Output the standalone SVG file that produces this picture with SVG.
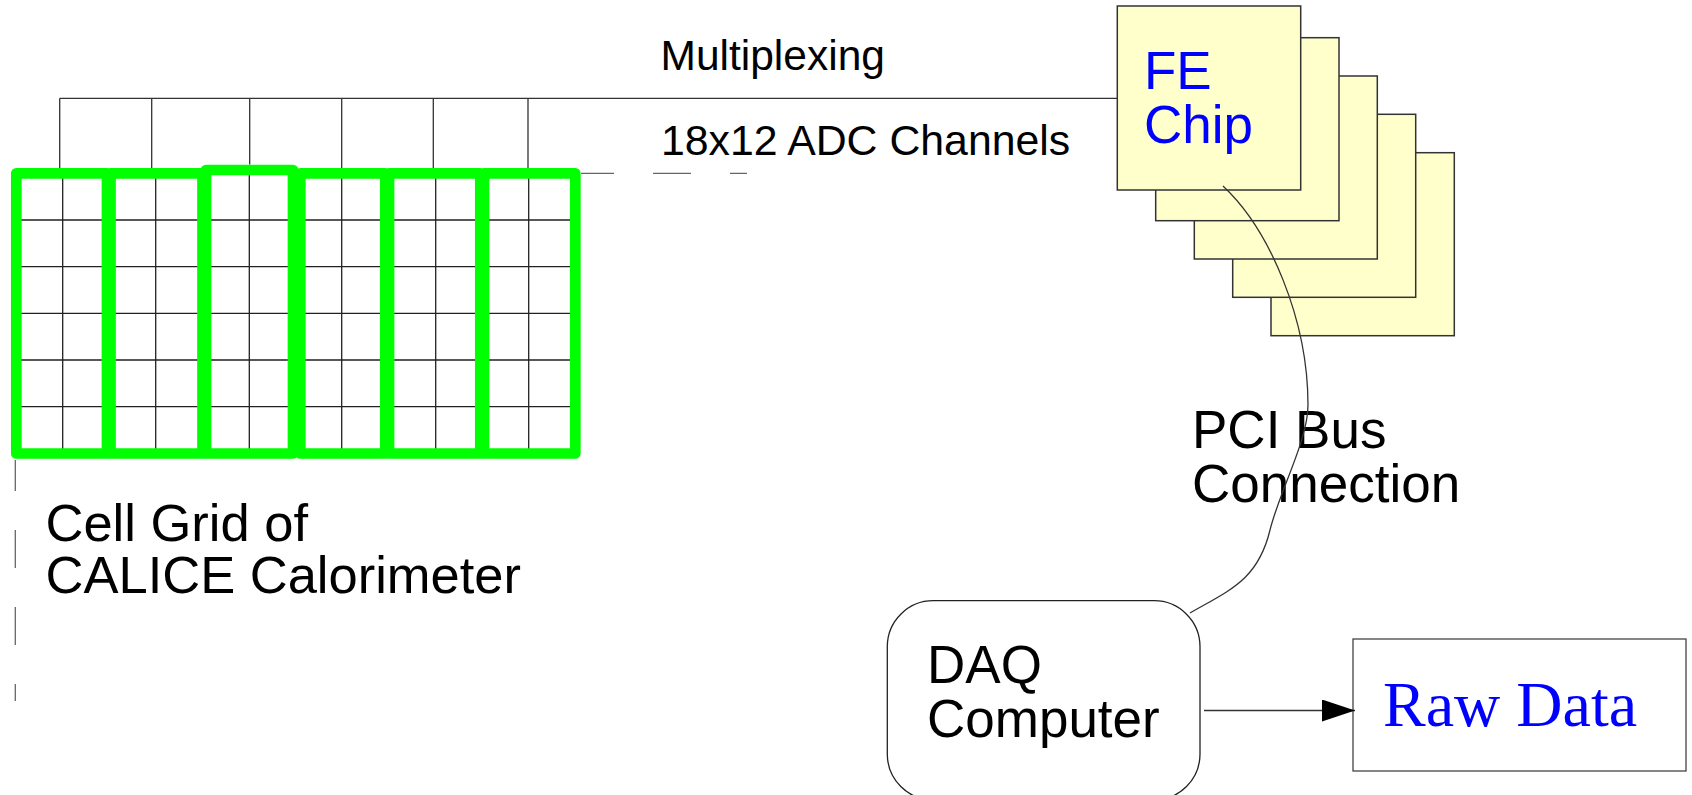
<svg xmlns="http://www.w3.org/2000/svg" width="1692" height="795" viewBox="0 0 1692 795">
<style>
.t{font-family:"Liberation Sans",Arial,sans-serif;fill:#000}
.blue{fill:#0000ff}
.grid{stroke:#222;stroke-width:1.3;fill:none}
.wire{stroke:#333;stroke-width:1.3;fill:none}
.blk{fill:none;stroke:#00ff00;stroke-width:10.7;stroke-linejoin:round}
.chip{fill:#ffffcc;stroke:#333;stroke-width:1.5}
.dash{stroke:#666;stroke-width:1.3;fill:none}
</style>
<defs>
<marker id="ah" markerUnits="userSpaceOnUse" markerWidth="34" markerHeight="23" refX="33" refY="11" orient="auto">
<path d="M0,0 L33,11 L0,22 Z" fill="#000"/>
</marker>
</defs>
<rect width="1692" height="795" fill="#fff"/>

<g id="cell-grid">
<path class="grid" d="M16,220 H575 M16,266.7 H575 M16,313.3 H575 M16,360 H575 M16,406.7 H575 M62.7,173 V454 M155.7,173 V454 M249.3,170 V454 M341.7,173 V454 M435.7,173 V454 M528.7,173 V454"/>
<rect class="blk" x="16.3" y="173.3" width="90.7" height="280.2"/>
<rect class="blk" x="110.5" y="173.3" width="92" height="280.2"/>
<rect class="blk" x="300.3" y="173.3" width="85" height="280.2"/>
<rect class="blk" x="389" y="173.3" width="91.3" height="280.2"/>
<rect class="blk" x="484" y="173.3" width="91.3" height="280.2"/>
<rect class="blk" x="206" y="170" width="87" height="283.5"/>
</g>

<g id="label-multiplexing">
<text class="t" x="660.5" y="70" font-size="42.5">Multiplexing</text>
</g>
<g id="label-adc">
<text class="t" x="661" y="155" font-size="42.8">18x12 ADC Channels</text>
</g>

<g id="fe-chips">
<rect class="chip" x="1271" y="152.7" width="183.3" height="183"/>
<rect class="chip" x="1232.7" y="114.3" width="183" height="183"/>
<rect class="chip" x="1194.3" y="76" width="183" height="183"/>
<rect class="chip" x="1155.7" y="37.7" width="183.3" height="183"/>
<rect class="chip" x="1117.3" y="6" width="183.4" height="184"/>
<text class="t blue" font-size="53"><tspan x="1144" y="89.3">FE</tspan><tspan x="1144" y="143.3">Chip</tspan></text>
</g>

<g id="label-pci">
<text class="t" font-size="53"><tspan x="1192" y="448.3">PCI Bus</tspan><tspan x="1192" y="501.7">Connection</tspan></text>
</g>

<g id="label-cellgrid">
<text class="t" font-size="52.5"><tspan x="45.5" y="541">Cell Grid of</tspan><tspan x="45.5" y="593.3">CALICE Calorimeter</tspan></text>
</g>

<g id="daq">
<rect x="887.3" y="600.7" width="312.7" height="199.3" rx="46" ry="46" fill="#fff" stroke="#222" stroke-width="1.3"/>
<text class="t" font-size="53"><tspan x="927" y="682.7">DAQ</tspan><tspan x="927" y="736.7">Computer</tspan></text>
</g>

<g id="raw-data">
<rect x="1353" y="639" width="333" height="132" fill="#fff" stroke="#444" stroke-width="1.3"/>
<text x="1383" y="725.7" font-size="64" font-family="'Liberation Serif','Times New Roman',serif" fill="#0000ff">Raw Data</text>
</g>

<g id="connectors">
<path class="wire" d="M59.7,98.3 H1117 M59.7,98.3 V168 M151.7,98.3 V168 M249.7,98.3 V164.5 M341.7,98.3 V168 M433.3,98.3 V168 M528,98.3 V168"/>
<path class="dash" d="M581,173.3 H614 M653,173.3 H691 M730,173.3 H747"/>
<path class="dash" d="M15.3,460 V491 M15.3,530 V568 M15.3,607 V645 M15.3,684 V701"/>
<path class="wire" d="M1223,186 C1270,230 1308,320 1308,405 C1308,440 1280,490 1270,530 C1258,580 1230,590 1190,613"/>
<path class="wire" d="M1204,710.5 H1355" marker-end="url(#ah)"/>
</g>
</svg>
